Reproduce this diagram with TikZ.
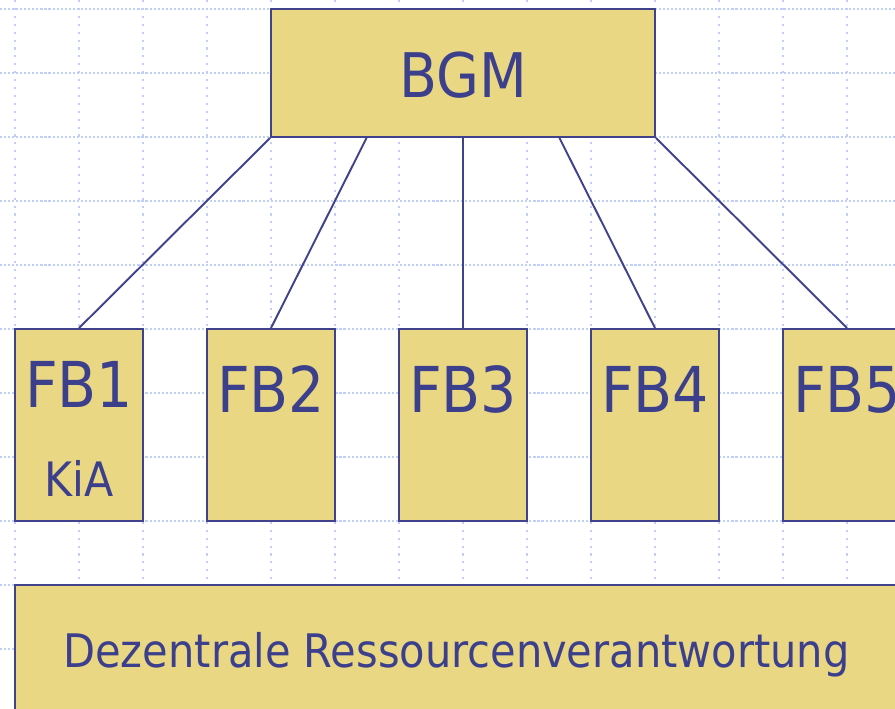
\documentclass[tikz,border=0pt]{standalone}
\usepackage{fontspec}
\setmainfont{DejaVu Sans Condensed}
\usetikzlibrary{calc}

\definecolor{boxfill}{RGB}{234,215,132}
\definecolor{boxline}{RGB}{64,66,140}
\definecolor{boxtext}{RGB}{60,64,140}
\definecolor{gridblue}{RGB}{192,206,250}

\tikzset{
    box/.style={draw=boxline, fill=boxfill, line width=1.1pt, inner sep=0pt},
    fbbox/.style={box, minimum width=2.56cm, minimum height=3.84cm},
    lbl/.style={text=boxtext, anchor=base, inner sep=0pt},
    link/.style={draw=boxline, line width=1.1pt}
}

\begin{document}
\begin{tikzpicture}[x=0.02cm, y=-0.02cm]
        \useasboundingbox (0,0) rectangle (895,708);
        \clip (0,0) rectangle (895,708);

        %draw the dotted background grid
        \foreach \gy in {9,73,...,649}
            \draw[gridblue, line width=1.3pt, dash pattern=on 1.2pt off 1.1pt] (0,\gy) -- (895,\gy);
        \foreach \gx in {15,79,...,847}
            \draw[gridblue, line width=1.3pt, dash pattern=on 1.2pt off 3.3pt] (\gx,0) -- (\gx,708);

        %draw the boxes
        \node[box, minimum width=7.68cm, minimum height=2.56cm] (bgm) at (463,73) {};
        \node[fbbox] (fb1) at (79,425) {};
        \node[fbbox] (fb2) at (271,425) {};
        \node[fbbox] (fb3) at (463,425) {};
        \node[fbbox] (fb4) at (655,425) {};
        \node[fbbox] (fb5) at (847,425) {};
        \node[box, minimum width=19.7cm, minimum height=4.3cm] (dezentral) at (507.5,692.5) {};

        %connect BGM with the departments
        \draw[link] (bgm.south west) -- (fb1.north);
        \draw[link] ($(bgm.south west)!0.25!(bgm.south east)$) -- (fb2.north);
        \draw[link] (bgm.south) -- (fb3.north);
        \draw[link] ($(bgm.south west)!0.75!(bgm.south east)$) -- (fb4.north);
        \draw[link] (bgm.south east) -- (fb5.north);

        %labels
        \node[lbl, font=\fontsize{35}{40}\selectfont] (bgmtxt) at (463,97) {BGM};
        \node[lbl, font=\fontsize{36}{40}\selectfont] (fb1txt) at (79,407) {FB1};
        \node[lbl, font=\fontsize{27}{30}\selectfont] (kiatxt) at (79,496) {KiA};
        \node[lbl, font=\fontsize{36}{40}\selectfont] (fb2txt) at (271,412) {FB2};
        \node[lbl, font=\fontsize{36}{40}\selectfont] (fb3txt) at (463,412) {FB3};
        \node[lbl, font=\fontsize{36}{40}\selectfont] (fb4txt) at (655,412) {FB4};
        \node[lbl, font=\fontsize{36}{40}\selectfont] (fb5txt) at (847,412) {FB5};
        \node[lbl, anchor=base west, font=\fontsize{26.3}{30}\selectfont] (dezentraltxt) at (63,667) {Dezentrale Ressourcenverantwortung};
    \end{tikzpicture}
\end{document}
